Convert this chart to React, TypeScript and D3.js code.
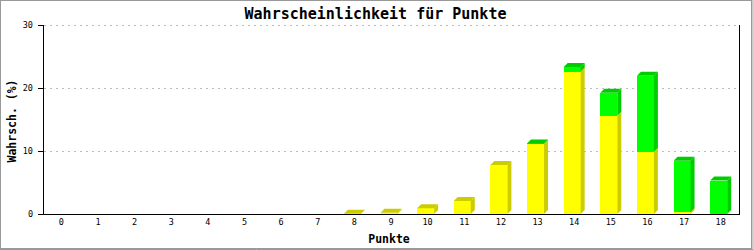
import React from "react";
import * as d3 from "d3";

const categories: string[] = ["0","1","2","3","4","5","6","7","8","9","10","11","12","13","14","15","16","17","18"];
const yellowValues: number[] = [0,0,0,0,0,0,0,0,0.05,0.2,0.9,2.06,7.78,11.1,22.6,15.6,9.9,0.3,0];
const greenValues: number[] = [0,0,0,0,0,0,0,0,0,0,0,0,0,0.1,0.75,3.65,12.05,8.15,5.3];
const yTicks: number[] = [0, 10, 20, 30];
const title = "Wahrscheinlichkeit für Punkte";
const xLabel = "Punkte";
const yLabel = "Wahrsch. (%)";

const W = 753, H = 250;
const left = 43, right = 739, top = 25, bottom = 214;
const barW = 17, dx = 4, dy = 4;
const mono = "'DejaVu Sans Mono', 'Liberation Mono', monospace";

const series = [
  { values: yellowValues, front: "#ffff00", side: "#cccc00" },
  { values: greenValues, front: "#00ff00", side: "#00cc00" },
];

export default function App() {
  const x = d3.scaleBand<string>().domain(categories).range([left, right]).padding(0);
  const y = d3.scaleLinear().domain([0, 30]).range([bottom, top]);

  const bars: React.ReactNode[] = [];
  categories.forEach((c, i) => {
    const cx = (x(c) as number) + x.bandwidth() / 2;
    const x0 = cx - (barW + dx) / 2;
    const x1 = x0 + barW;
    let acc = 0;
    const segs: { y0: number; y1: number; s: typeof series[0] }[] = [];
    series.forEach((s) => {
      const v = s.values[i];
      if (v > 0) {
        segs.push({ y0: y(acc), y1: y(acc + v), s });
        acc += v;
      }
    });
    segs.forEach((g, k) => {
      bars.push(
        <g key={`${i}-${k}`}>
          <rect x={x0} y={g.y1} width={barW} height={g.y0 - g.y1} fill={g.s.front} shapeRendering="crispEdges" />
          <polygon
            points={`${x1},${g.y0} ${x1},${g.y1} ${x1 + dx},${g.y1 - dy} ${x1 + dx},${g.y0 - dy}`}
            fill={g.s.side}
          />
        </g>
      );
    });
    if (segs.length) {
      const t = segs[segs.length - 1];
      bars.push(
        <polygon
          key={`top-${i}`}
          points={`${x0},${t.y1} ${x1},${t.y1} ${x1 + dx},${t.y1 - dy} ${x0 + dx},${t.y1 - dy}`}
          fill={t.s.side}
        />
      );
    }
  });

  return (
    <div style={{ position: "fixed", left: 0, top: 0 }}>
      <svg width={W} height={H} style={{ display: "block", background: "#fff" }}>
        <rect x={0.5} y={0.5} width={751} height={248} fill="#fff" stroke="#999" strokeWidth={1} />
        <line x1={752} y1={0} x2={752} y2={250} stroke="#999" strokeWidth={1} />
        <line x1={0} y1={249.5} x2={753} y2={249.5} stroke="#999" strokeWidth={1} />
        {/* grid */}
        {yTicks.filter((t) => t > 0).map((t) => (
          <line key={`g${t}`} x1={left + 1} x2={right} y1={Math.round(y(t)) + 0.5} y2={Math.round(y(t)) + 0.5}
            stroke="#bbbbbb" strokeDasharray="2,4" shapeRendering="crispEdges" />
        ))}
        {/* bars */}
        {bars}
        {/* axes */}
        <line x1={left + 0.5} x2={left + 0.5} y1={top} y2={bottom + 1} stroke="#000" strokeWidth={1} shapeRendering="crispEdges" />
        <line x1={right + 0.5} x2={right + 0.5} y1={top} y2={bottom + 1} stroke="#000" strokeWidth={1} shapeRendering="crispEdges" />
        <line x1={left} x2={right + 1} y1={bottom + 0.5} y2={bottom + 0.5} stroke="#000" strokeWidth={1} shapeRendering="crispEdges" />
        {yTicks.map((t) => (
          <g key={`yt${t}`}>
            <line x1={left - 5} x2={left} y1={Math.round(y(t)) + 0.5} y2={Math.round(y(t)) + 0.5} stroke="#000" shapeRendering="crispEdges" />
            <text x={33} y={y(t)} dy="0.35em" textAnchor="end" fontFamily={mono} fontSize={8.5} fill="#000">{t}</text>
          </g>
        ))}
        {categories.map((c) => (
          <text key={`xt${c}`} x={(x(c) as number) + x.bandwidth() / 2} y={222} dy="0.35em" textAnchor="middle"
            fontFamily={mono} fontSize={8.5} fill="#000">{c}</text>
        ))}
        <text x={W / 2 - 1} y={14} dy="0.35em" textAnchor="middle" fontFamily={mono} fontWeight="bold" fontSize={15} fill="#000">{title}</text>
        <text x={389} y={239} dy="0.35em" textAnchor="middle" fontFamily={mono} fontWeight="bold" fontSize={11.5} fill="#000">{xLabel}</text>
        <text transform={`translate(12, ${(80 + 162) / 2}) rotate(-90)`} dy="0.35em" textAnchor="middle" fontFamily={mono} fontWeight="bold" fontSize={11.5} fill="#000">{yLabel}</text>
      </svg>
    </div>
  );
}
